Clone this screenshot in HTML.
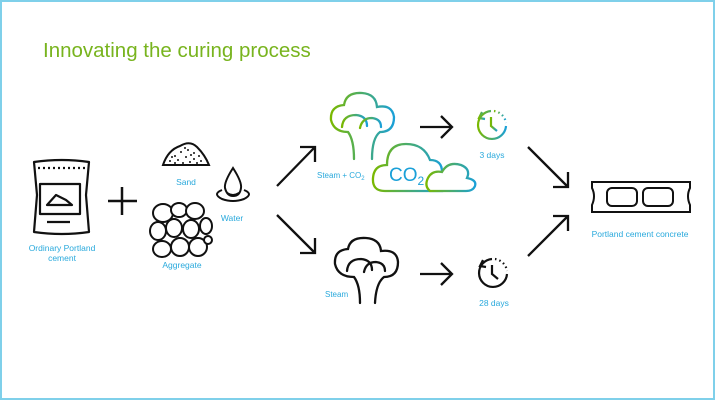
<!DOCTYPE html>
<html><head><meta charset="utf-8"><style>
html,body{margin:0;padding:0;background:#fff;}
body{width:715px;height:400px;overflow:hidden;}
svg{display:block;}
text{font-family:"Liberation Sans",sans-serif;}
</style></head><body>
<svg width="715" height="400" viewBox="0 0 715 400" xmlns="http://www.w3.org/2000/svg">
<defs>
<linearGradient id="g" x1="0" y1="0" x2="1" y2="0">
<stop offset="0" stop-color="#7ab800"/><stop offset="1" stop-color="#1aa0d8"/>
</linearGradient>
</defs>
<rect x="1" y="1" width="713" height="398" fill="#fff" stroke="#7fd0ea" stroke-width="2"/>
<text x="43" y="57" font-size="20.5" fill="#78b41e">Innovating the curing process</text>

<!-- bag -->
<g fill="none" stroke="#111" stroke-width="2.2" stroke-linejoin="round">
<path d="M34 162 Q62 158 89 162 L86 195 L89 232 Q62 236 34 232 L37 195 Z"/>
<line x1="38" y1="168" x2="86" y2="168" stroke-dasharray="2 3"/>
<rect x="40" y="184" width="40" height="30"/>
<path d="M47 205 L56 195 L66 200 L72 205 Z"/>
<line x1="47" y1="222" x2="70" y2="222"/>
</g>
<text x="62" y="251" font-size="8.5" fill="#29a9dc" text-anchor="middle">Ordinary Portland</text>
<text x="62" y="261" font-size="8.5" fill="#29a9dc" text-anchor="middle">cement</text>

<!-- plus -->
<g stroke="#111" stroke-width="2.5"><line x1="108" y1="201" x2="137" y2="201"/><line x1="122" y1="187" x2="122" y2="215"/></g>

<!-- sand -->
<path d="M163 165 Q168 150 180 146 Q190 140 197 147 Q205 155 209 165 Z" fill="none" stroke="#111" stroke-width="2"/>
<g fill="#111">
<circle cx="175" cy="156" r="1"/><circle cx="181" cy="152" r="1"/><circle cx="188" cy="150" r="1"/><circle cx="194" cy="153" r="1"/><circle cx="170" cy="161" r="1"/><circle cx="178" cy="160" r="1"/><circle cx="186" cy="157" r="1"/><circle cx="194" cy="159" r="1"/><circle cx="201" cy="161" r="1"/><circle cx="183" cy="163" r="1"/><circle cx="190" cy="162" r="1"/><circle cx="199" cy="156" r="1"/>
<circle cx="172" cy="157" r="1"/><circle cx="185" cy="148" r="1"/><circle cx="191" cy="155" r="1"/><circle cx="197" cy="163" r="1"/><circle cx="175" cy="163" r="1"/>
</g>
<text x="186" y="185" font-size="8.5" fill="#29a9dc" text-anchor="middle">Sand</text>

<!-- water -->
<g fill="none" stroke="#111" stroke-width="2">
<path d="M233 168 Q224 182 225 188 Q227 196 233 196 Q240 196 241 188 Q242 182 233 168 Z"/>
<path d="M222 190 Q212 194 222 199 Q233 203 244 199 Q254 194 244 190"/>
<path d="M227 193 Q233 197 239 193"/>
</g>
<text x="232" y="221" font-size="8.5" fill="#29a9dc" text-anchor="middle">Water</text>

<!-- aggregate -->
<g fill="#fff" stroke="#111" stroke-width="2">
<ellipse cx="163" cy="213" rx="10" ry="9"/><ellipse cx="179" cy="210" rx="8" ry="7"/><ellipse cx="195" cy="211" rx="9" ry="8"/>
<ellipse cx="158" cy="231" rx="8" ry="9"/><ellipse cx="174" cy="228" rx="8" ry="9"/><ellipse cx="191" cy="229" rx="8" ry="9"/><ellipse cx="206" cy="226" rx="6" ry="8"/>
<ellipse cx="162" cy="249" rx="9" ry="8"/><ellipse cx="180" cy="247" rx="9" ry="9"/><ellipse cx="198" cy="247" rx="9" ry="9"/><ellipse cx="208" cy="240" rx="4" ry="4"/>
</g>
<text x="182" y="268" font-size="8.5" fill="#29a9dc" text-anchor="middle">Aggregate</text>

<!-- arrows -->
<g fill="none" stroke="#111" stroke-width="2.3">
<path d="M277 186 L315 147 M300 147 L315 147 L315 162"/>
<path d="M277 215 L315 253 M315 238 L315 253 L300 253"/>
<path d="M420 127 L452 127 M441 116 L452 127 L441 138"/>
<path d="M420 274 L452 274 M441 263 L452 274 L441 285"/>
<path d="M528 147 L568 187 M568 172 L568 187 L553 187"/>
<path d="M528 256 L568 216 M553 216 L568 216 L568 231"/>
</g>

<!-- green broccoli -->
<g fill="none" stroke="url(#g)" stroke-width="2.3" stroke-linecap="round">
<path d="M354 159 Q354 140 348 132 Q334 132 331 120 Q330 106 344 105 Q346 92 362 93 Q376 94 377 107 Q392 104 394 117 Q394 132 380 132 Q372 138 372 159"/>
<path d="M342 127 Q343 115 356 115 Q367 116 367 126"/>
<path d="M360 128 Q362 118 372 118 Q381 119 381 127"/>
</g>
<text x="317" y="178" font-size="8" fill="#29a9dc">Steam + CO<tspan font-size="6" dy="2">2</tspan></text>

<!-- CO2 cloud -->
<g fill="#fff" stroke="url(#g)" stroke-width="2.3">
<path d="M385 191 Q372 191 373 178 Q374 165 387 165 Q387 144 406 144 Q424 144 430 160 Q442 160 442 172 L442 191 Z"/>
<path d="M430 191 Q424 186 428 178 Q432 170 442 172 Q448 161 461 165 Q471 169 467 178 Q477 180 475 186 Q473 191 466 191 Z"/>
</g>
<text x="389" y="181" font-size="19" fill="#1aa0d8">CO<tspan font-size="12" dy="4">2</tspan></text>

<!-- green clock -->
<g fill="none" stroke="url(#g)" stroke-width="2.2">
<path d="M491 111 A14 14 0 1 0 506 126"/>
<path d="M494 111 A14 14 0 0 1 506 123" stroke-dasharray="1.5 3"/>
<path d="M491 117 L491 126 L497 131"/>
<path d="M482 112 L479 118 L485 119"/>
</g>
<text x="492" y="158" font-size="8.5" fill="#29a9dc" text-anchor="middle">3 days</text>

<!-- black broccoli -->
<g fill="none" stroke="#111" stroke-width="2.3" stroke-linecap="round">
<path d="M360 303 Q360 285 354 277 Q338 277 335 264 Q334 250 348 249 Q350 237 366 238 Q380 239 381 251 Q397 249 398 262 Q398 277 384 277 Q376 283 375 303"/>
<path d="M347 271 Q348 259 361 259 Q372 260 372 270"/>
<path d="M364 272 Q366 262 376 262 Q385 263 385 271"/>
</g>
<text x="325" y="297" font-size="8" fill="#29a9dc">Steam</text>

<!-- black clock -->
<g fill="none" stroke="#111" stroke-width="2.2">
<path d="M492 259 A14 14 0 1 0 507 274"/>
<path d="M495 259 A14 14 0 0 1 507 271" stroke-dasharray="1.5 3"/>
<path d="M492 265 L492 274 L498 279"/>
<path d="M483 260 L480 266 L486 267"/>
</g>
<text x="494" y="306" font-size="8.5" fill="#29a9dc" text-anchor="middle">28 days</text>

<!-- block -->
<g fill="none" stroke="#111" stroke-width="2">
<path d="M592 182 L690 182 L690 188 Q686 196 690 205 L690 212 L592 212 L592 205 Q596 196 592 188 Z"/>
<rect x="607" y="188" width="30" height="18" rx="5"/>
<rect x="643" y="188" width="30" height="18" rx="5"/>
</g>
<text x="640" y="237" font-size="8.5" fill="#29a9dc" text-anchor="middle">Portland cement concrete</text>
</svg>
</body></html>
